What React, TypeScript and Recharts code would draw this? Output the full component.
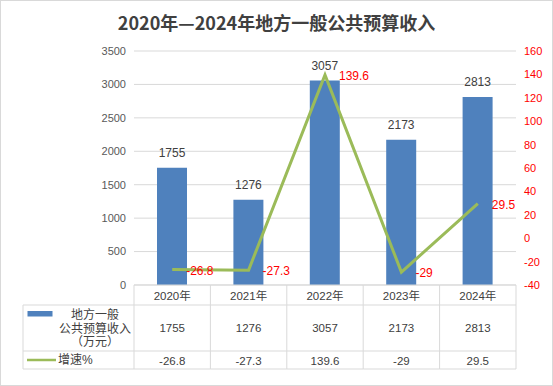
import React from "react";
import {
  ComposedChart,
  Bar,
  Line,
  XAxis,
  YAxis,
  CartesianGrid,
  LabelList,
} from "recharts";

const years = ["2020年", "2021年", "2022年", "2023年", "2024年"];
const revenue = [1755, 1276, 3057, 2173, 2813];
const growth = [-26.8, -27.3, 139.6, -29, 29.5];
const leftTicks = [0, 500, 1000, 1500, 2000, 2500, 3000, 3500];
const rightTicks = [-40, -20, 0, 20, 40, 60, 80, 100, 120, 140, 160];
const barName = ["地方一般", "公共预算收入", "（万元）"];
const lineName = "增速%";
const title = "2020年—2024年地方一般公共预算收入";

const data = years.map((y, i) => ({ year: y, revenue: revenue[i], growth: growth[i] }));

const W = 553;
const H = 386;
const M = { top: 51, right: 7, bottom: 1, left: 94 };
const LEFT_AXIS_W = 40;
const RIGHT_AXIS_W = 30;
const PLOT_W = W - M.left - M.right - LEFT_AXIS_W - RIGHT_AXIS_W;
const COL_W = PLOT_W / years.length;
const FONT = "'Liberation Sans', 'Noto Sans CJK SC', sans-serif";
const GRID = "#d9d9d9";
const TXT = "#404040";
const BLUE = "#4f81bd";
const GREEN = "#9bbb59";

const TableTick = (props: any) => {
  const { x, y, payload, index } = props;
  const i = payload && payload.index != null ? payload.index : index;
  const half = COL_W / 2;
  const l = x - half;
  const r = x + half;
  const top = y;
  const r1 = top + 20;
  const r2 = top + 66;
  const r3 = top + 84;
  const legL = l - 111;
  return (
    <g>
      <line x1={l} x2={r} y1={top} y2={top} stroke={GRID} />
      <line x1={l} x2={r} y1={r1} y2={r1} stroke={GRID} />
      <line x1={l} x2={r} y1={r2} y2={r2} stroke={GRID} />
      <line x1={l} x2={r} y1={r3} y2={r3} stroke={GRID} />
      <line x1={r} x2={r} y1={top} y2={r3} stroke={GRID} />
      {i === 0 && (
        <g>
          <line x1={l} x2={l} y1={top} y2={r3} stroke={GRID} />
          <line x1={legL} x2={l} y1={r1} y2={r1} stroke={GRID} />
          <line x1={legL} x2={l} y1={r2} y2={r2} stroke={GRID} />
          <line x1={legL} x2={l} y1={r3} y2={r3} stroke={GRID} />
          <line x1={legL} x2={legL} y1={r1} y2={r3} stroke={GRID} />
          <rect x={legL + 4.5} y={top + 26} width={25} height={5.5} fill={BLUE} />
          {barName.map((s, k) => (
            <text
              key={k}
              x={l - 39}
              y={top + 30 + k * 13.5}
              textAnchor="middle"
              dominantBaseline="central"
              fontSize={12}
              fill={TXT}
              fontFamily={FONT}
            >
              {s}
            </text>
          ))}
          <line x1={legL + 4} x2={legL + 33} y1={top + 75} y2={top + 75} stroke={GREEN} strokeWidth={2.5} />
          <text
            x={legL + 35}
            y={top + 75}
            dominantBaseline="central"
            fontSize={12}
            fill={TXT}
            fontFamily={FONT}
          >
            {lineName}
          </text>
        </g>
      )}
      <text x={x} y={top + 10.5} textAnchor="middle" dominantBaseline="central" fontSize={11.5} fill={TXT} fontFamily={FONT}>
        {years[i]}
      </text>
      <text x={x} y={top + 43} textAnchor="middle" dominantBaseline="central" fontSize={11.5} fill={TXT} fontFamily={FONT}>
        {revenue[i]}
      </text>
      <text x={x} y={top + 75.5} textAnchor="middle" dominantBaseline="central" fontSize={11.5} fill={TXT} fontFamily={FONT}>
        {growth[i]}
      </text>
    </g>
  );
};

const GrowthLabel = (props: any) => {
  const { x, y, value } = props;
  return (
    <text x={x + 14} y={y + 1} dominantBaseline="central" fontSize={12} fill="#ff0000" fontFamily={FONT}>
      {value}
    </text>
  );
};

export default function App() {
  return (
    <div style={{ position: "absolute", left: 0, top: 0, width: W, height: H, background: "#fff" }}>
      <ComposedChart width={W} height={H} data={data} margin={M}>
        <CartesianGrid horizontal vertical={false} stroke={GRID} yAxisId="left" />
        <XAxis
          dataKey="year"
          height={100}
          interval={0}
          axisLine={false}
          tickLine={false}
          tickSize={0}
          tickMargin={0}
          tick={<TableTick />}
        />
        <YAxis
          yAxisId="left"
          orientation="left"
          width={LEFT_AXIS_W}
          domain={[0, 3500]}
          ticks={leftTicks}
          axisLine={false}
          tickLine={false}
          tick={{ fontSize: 11, fill: "#595959", fontFamily: FONT }}
        />
        <YAxis
          yAxisId="right"
          orientation="right"
          width={RIGHT_AXIS_W}
          domain={[-40, 160]}
          ticks={rightTicks}
          axisLine={false}
          tickLine={false}
          tick={{ fontSize: 11, fill: "#ff0000", fontFamily: FONT, textAnchor: "start" }}
        />
        <Bar yAxisId="left" dataKey="revenue" fill={BLUE} barSize={30} isAnimationActive={false}>
          <LabelList dataKey="revenue" position="top" offset={11} fontSize={12} fill={TXT} fontFamily={FONT} />
        </Bar>
        <Line
          yAxisId="right"
          type="linear"
          dataKey="growth"
          stroke={GREEN}
          strokeWidth={3}
          dot={false}
          isAnimationActive={false}
          label={<GrowthLabel />}
        />
      </ComposedChart>
      <div
        style={{
          position: "absolute",
          left: 0,
          top: 0,
          width: W,
          height: 44,
          lineHeight: "44px",
          textAlign: "center",
          fontFamily: "'Noto Sans CJK SC', sans-serif",
          fontWeight: 700,
          fontSize: 18,
          color: TXT,
        }}
      >
        {title}
      </div>
      <div
        style={{
          position: "absolute",
          left: 0,
          top: 0,
          width: W,
          height: H,
          boxSizing: "border-box",
          border: "1px solid #d9d9d9",
          pointerEvents: "none",
        }}
      />
    </div>
  );
}
